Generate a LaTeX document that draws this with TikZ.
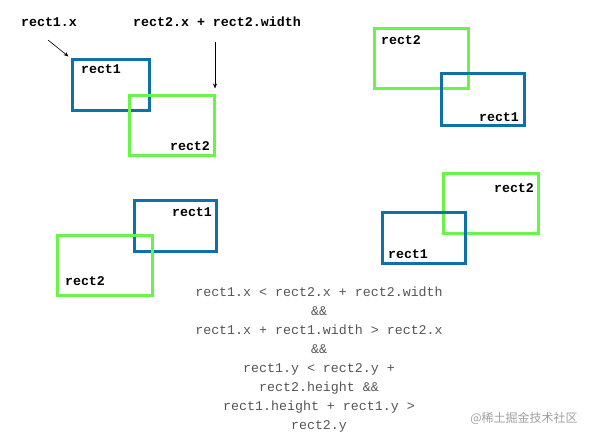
\documentclass[tikz,border=0pt]{standalone}
\usepackage{fontspec}
\setmonofont{Liberation Mono}
\newfontfamily\cjk{Noto Sans CJK SC}
\usetikzlibrary{arrows.meta}
\definecolor{rblue}{RGB}{16,112,168}
\definecolor{rgreen}{RGB}{104,244,72}
\definecolor{txtgray}{RGB}{85,85,85}
\tikzset{
  box/.style={draw, line width=3pt, inner sep=0pt, outer sep=0pt, anchor=north west},
  bluebox/.style={box, rblue},
  greenbox/.style={box, rgreen},
  lbl/.style={font=\ttfamily\bfseries\fontsize{13.3}{15}\selectfont, inner sep=0pt, text=black},
  pointer/.style={-{Stealth[length=5pt,width=4pt]}, line width=0.6pt}
}
\begin{document}
\begin{tikzpicture}[x=1pt,y=-1pt]
\useasboundingbox (0,0) rectangle (594,439);
% top-left pair
\node[bluebox, minimum width=77pt, minimum height=51pt] (a1) at (72.5,59.5) {};
\node[greenbox, minimum width=85pt, minimum height=60pt] (a2) at (129.5,95.5) {};
\node[lbl] (a1l) at (101,69) {rect1};
\node[lbl] (a2l) at (190,146) {rect2};
\node[lbl] (t1) at (49,22) {rect1.x};
\node[lbl] (t2) at (217,22) {rect2.x + rect2.width};
\coordinate (p1) at (48,40);
\coordinate (p2) at (215,42);
\draw[pointer] (p1) -- ([shift={(-4,-3)}]a1.north west);
\draw[pointer] (p2) -- ([shift={(0,-7)}]p2 |- a2.north);
% top-right pair
\node[greenbox, minimum width=94pt, minimum height=60pt] (b2) at (374.5,28.5) {};
\node[bluebox, minimum width=83pt, minimum height=52pt] (b1) at (441.5,73.5) {};
\node[lbl] (b2l) at (401,40) {rect2};
\node[lbl] (b1l) at (499,117) {rect1};
% bottom-left pair
\node[bluebox, minimum width=82pt, minimum height=51pt] (c1) at (134.5,200.5) {};
\node[greenbox, minimum width=95pt, minimum height=60pt] (c2) at (57.5,235.5) {};
\node[lbl] (c1l) at (192,212) {rect1};
\node[lbl] (c2l) at (85,281) {rect2};
% bottom-right pair
\node[greenbox, minimum width=95pt, minimum height=60pt] (d2) at (443.5,173.5) {};
\node[bluebox, minimum width=83pt, minimum height=51pt] (d1) at (382.5,212.5) {};
\node[lbl] (d2l) at (514,188) {rect2};
\node[lbl] (d1l) at (408,254) {rect1};
% condition text
\node[align=center, inner sep=0pt, text=txtgray, font=\ttfamily\fontsize{13.3}{19}\selectfont] (cond) at (319,360) {rect1.x < rect2.x + rect2.width\\ \&\&\\ rect1.x + rect1.width > rect2.x\\ \&\&\\ rect1.y < rect2.y +\\ rect2.height \&\&\\ rect1.height + rect1.y >\\ rect2.y};
% watermark
\node[inner sep=0pt, text={rgb,255:red,160;green,160;blue,160}, font=\cjk\fontsize{12}{14}\selectfont] (wm) at (524,418) {@稀土掘金技术社区};
\end{tikzpicture}
\end{document}
